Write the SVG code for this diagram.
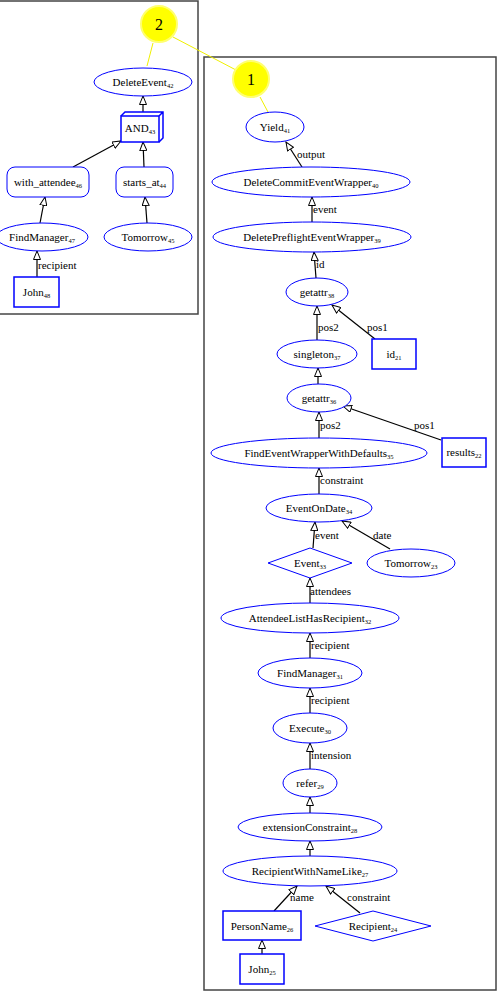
<svg xmlns="http://www.w3.org/2000/svg" width="498" height="992" viewBox="0 0 498 992">
<defs>
<marker id="ah" markerWidth="10" markerHeight="8" refX="9" refY="4" orient="auto" markerUnits="userSpaceOnUse">
<path d="M0.5,0.5 L9,4 L0.5,7.5 Z" fill="#fff" stroke="#000" stroke-width="1"/>
</marker>
<style>
text{font-family:"Liberation Serif","Times New Roman",serif;font-size:11px;fill:#000}
.n{fill:#fff;stroke:#0000ff;stroke-width:1}
.b{fill:#fff;stroke:#0000ff;stroke-width:1.5}
.c{fill:none;stroke:#444;stroke-width:1.5}
.e line{stroke:#000;stroke-width:1.2;marker-end:url(#ah)}
.m{text-anchor:middle}
.s{font-size:6.5px}
.y{stroke:#f0f000;stroke-width:1;fill:none}
.yc{fill:#ffff00;stroke:#ffff70;stroke-width:2}
.big{font-size:16px;text-anchor:middle}
</style>
</defs>
<rect width="498" height="992" fill="#fff"/>
<g id="clusters">
<rect class="c" x="-5" y="1" width="203" height="313"/>
<rect class="c" x="204" y="57" width="292" height="933"/>
</g>
<g id="highlights">
<line class="y" x1="173" y1="37" x2="236" y2="70"/>
<line class="y" x1="153" y1="43" x2="147" y2="66"/>
<line class="y" x1="260" y1="97" x2="268" y2="112"/>
<g id="h2"><circle class="yc" cx="159" cy="24" r="18"/><text class="big" x="159" y="30">2</text></g>
<g id="h1"><circle class="yc" cx="251" cy="79" r="18"/><text class="big" x="251" y="85">1</text></g>
</g>
<g id="edges" class="e">
<line x1="143" y1="116" x2="143" y2="96"/>
<line x1="73" y1="167" x2="121" y2="141"/>
<line x1="144" y1="167" x2="143" y2="142"/>
<line x1="40" y1="223" x2="45" y2="197"/>
<line x1="147" y1="223" x2="145" y2="197"/>
<line x1="37" y1="277" x2="37" y2="251"/>
<line x1="302" y1="167" x2="286" y2="142"/>
<line x1="312" y1="222" x2="312" y2="197"/>
<line x1="316" y1="278" x2="314" y2="252"/>
<line x1="317" y1="340" x2="317" y2="306"/>
<line x1="375" y1="339" x2="332" y2="305"/>
<line x1="318" y1="384" x2="318" y2="368"/>
<line x1="319" y1="438" x2="319" y2="412"/>
<line x1="441" y1="440" x2="343" y2="406"/>
<line x1="319" y1="494" x2="319" y2="468"/>
<line x1="313" y1="548" x2="315" y2="522"/>
<line x1="390" y1="549" x2="342" y2="521"/>
<line x1="310" y1="603" x2="310" y2="578"/>
<line x1="310" y1="658" x2="310" y2="633"/>
<line x1="310" y1="713" x2="310" y2="688"/>
<line x1="310" y1="769" x2="310" y2="743"/>
<line x1="310" y1="813" x2="310" y2="797"/>
<line x1="310" y1="856" x2="310" y2="841"/>
<line x1="274" y1="911" x2="297" y2="886"/>
<line x1="360" y1="913" x2="326" y2="886"/>
<line x1="262" y1="954" x2="262" y2="940"/>
</g>
<g id="edge-labels">
<text x="38" y="269">recipient</text>
<text x="297" y="158">output</text>
<text x="313" y="213">event</text>
<text x="316" y="268">id</text>
<text x="318" y="331">pos2</text>
<text x="367" y="331">pos1</text>
<text x="320" y="429">pos2</text>
<text x="414" y="429">pos1</text>
<text x="320" y="484">constraint</text>
<text x="315" y="539">event</text>
<text x="373" y="539">date</text>
<text x="310" y="595">attendees</text>
<text x="311" y="649">recipient</text>
<text x="311" y="704">recipient</text>
<text x="311" y="759">intension</text>
<text x="290" y="901">name</text>
<text x="347" y="901">constraint</text>
</g>
<g id="DeleteEvent42"><ellipse class="n" cx="143" cy="82" rx="49" ry="14"/><text class="m" x="143" y="86">DeleteEvent<tspan class="s" dy="2">42</tspan></text></g>
<g id="AND43"><path class="b" d="M121,116 L125,112 L163,112 L163,138 L159,142 M159,116 L163,112"/><rect class="b" x="121" y="116" width="38" height="26"/><text class="m" x="140" y="132">AND<tspan class="s" dy="2">43</tspan></text></g>
<g id="with_attendee46"><rect class="n" x="7" y="167" width="82" height="30" rx="8"/><text class="m" x="48" y="186">with_attendee<tspan class="s" dy="2">46</tspan></text></g>
<g id="starts_at44"><rect class="n" x="116" y="167" width="57" height="30" rx="8"/><text class="m" x="144.5" y="186">starts_at<tspan class="s" dy="2">44</tspan></text></g>
<g id="FindManager47"><ellipse class="n" cx="42" cy="237" rx="46" ry="14"/><text class="m" x="42" y="241">FindManager<tspan class="s" dy="2">47</tspan></text></g>
<g id="Tomorrow45"><ellipse class="n" cx="148" cy="237" rx="44" ry="14"/><text class="m" x="148" y="241">Tomorrow<tspan class="s" dy="2">45</tspan></text></g>
<g id="John48"><rect class="b" x="14" y="277" width="45" height="30"/><text class="m" x="36.5" y="296">John<tspan class="s" dy="2">48</tspan></text></g>
<g id="Yield41"><ellipse class="n" cx="275" cy="127" rx="29" ry="15"/><text class="m" x="275" y="131">Yield<tspan class="s" dy="2">41</tspan></text></g>
<g id="DeleteCommitEventWrapper40"><ellipse class="n" cx="311" cy="182" rx="99" ry="15"/><text class="m" x="311" y="186">DeleteCommitEventWrapper<tspan class="s" dy="2">40</tspan></text></g>
<g id="DeletePreflightEventWrapper39"><ellipse class="n" cx="312" cy="237" rx="99" ry="15"/><text class="m" x="312" y="241">DeletePreflightEventWrapper<tspan class="s" dy="2">39</tspan></text></g>
<g id="getattr38"><ellipse class="n" cx="317" cy="292" rx="31" ry="14"/><text class="m" x="317" y="296">getattr<tspan class="s" dy="2">38</tspan></text></g>
<g id="singleton37"><ellipse class="n" cx="317" cy="354" rx="40" ry="14"/><text class="m" x="317" y="358">singleton<tspan class="s" dy="2">37</tspan></text></g>
<g id="id21"><rect class="b" x="372" y="339" width="44" height="30"/><text class="m" x="394" y="358">id<tspan class="s" dy="2">21</tspan></text></g>
<g id="getattr36"><ellipse class="n" cx="319" cy="398" rx="32" ry="14"/><text class="m" x="319" y="402">getattr<tspan class="s" dy="2">36</tspan></text></g>
<g id="FindEventWrapperWithDefaults35"><ellipse class="n" cx="319" cy="453" rx="108" ry="15"/><text class="m" x="319" y="457">FindEventWrapperWithDefaults<tspan class="s" dy="2">35</tspan></text></g>
<g id="results22"><rect class="b" x="442" y="438" width="44" height="29"/><text class="m" x="464" y="456">results<tspan class="s" dy="2">22</tspan></text></g>
<g id="EventOnDate34"><ellipse class="n" cx="319" cy="508" rx="53" ry="14"/><text class="m" x="319" y="512">EventOnDate<tspan class="s" dy="2">34</tspan></text></g>
<g id="Event33"><polygon class="n" points="310,548 352,563 310,578 268,563"/><text class="m" x="310" y="567">Event<tspan class="s" dy="2">33</tspan></text></g>
<g id="Tomorrow23"><ellipse class="n" cx="411" cy="563" rx="44" ry="14"/><text class="m" x="411" y="567">Tomorrow<tspan class="s" dy="2">23</tspan></text></g>
<g id="AttendeeListHasRecipient32"><ellipse class="n" cx="310" cy="618" rx="89" ry="15"/><text class="m" x="310" y="622">AttendeeListHasRecipient<tspan class="s" dy="2">32</tspan></text></g>
<g id="FindManager31"><ellipse class="n" cx="310" cy="673" rx="52" ry="15"/><text class="m" x="310" y="677">FindManager<tspan class="s" dy="2">31</tspan></text></g>
<g id="Execute30"><ellipse class="n" cx="310" cy="728" rx="37" ry="15"/><text class="m" x="310" y="732">Execute<tspan class="s" dy="2">30</tspan></text></g>
<g id="refer29"><ellipse class="n" cx="310" cy="783" rx="27" ry="14"/><text class="m" x="310" y="787">refer<tspan class="s" dy="2">29</tspan></text></g>
<g id="extensionConstraint28"><ellipse class="n" cx="310" cy="827" rx="72" ry="14"/><text class="m" x="310" y="831">extensionConstraint<tspan class="s" dy="2">28</tspan></text></g>
<g id="RecipientWithNameLike27"><ellipse class="n" cx="310" cy="871" rx="87" ry="15"/><text class="m" x="310" y="875">RecipientWithNameLike<tspan class="s" dy="2">27</tspan></text></g>
<g id="PersonName26"><rect class="b" x="223" y="911" width="78" height="29"/><text class="m" x="262" y="930">PersonName<tspan class="s" dy="2">26</tspan></text></g>
<g id="Recipient24"><polygon class="n" points="373,911 431,926 373,941 315,926"/><text class="m" x="373" y="930">Recipient<tspan class="s" dy="2">24</tspan></text></g>
<g id="John25"><rect class="b" x="240" y="954" width="44" height="30"/><text class="m" x="262" y="973">John<tspan class="s" dy="2">25</tspan></text></g>
</svg>
